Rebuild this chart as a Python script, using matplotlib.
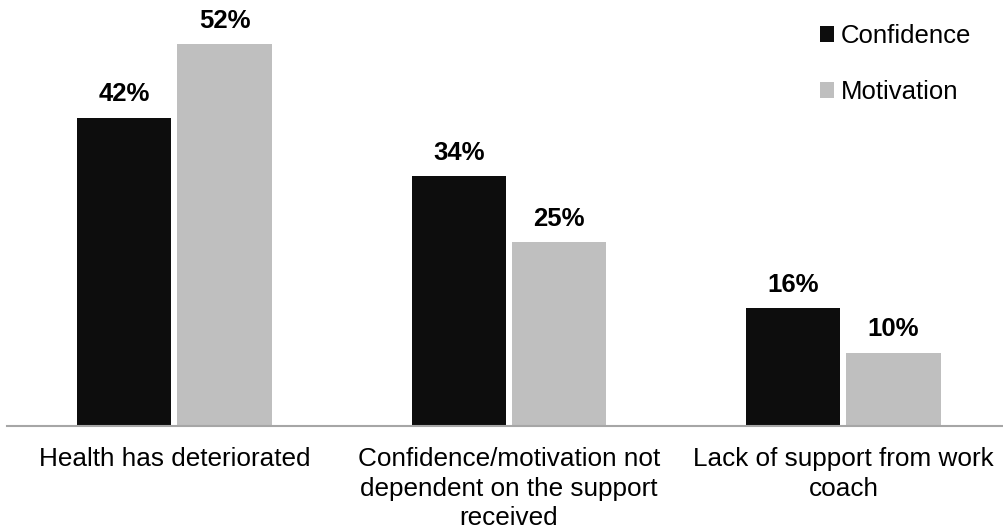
import matplotlib.pyplot as plt
import numpy as np

plt.rcParams['font.family'] = ['Liberation Sans', 'DejaVu Sans']

# reasons and percentages per series
categories = ['Health has deteriorated',
              'Confidence/motivation not\ndependent on the support\nreceived',
              'Lack of support from work\ncoach']
confidence = [42, 34, 16]
motivation = [52, 25, 10]

x = np.arange(len(categories))
w = 0.282
gap = 0.018

fig = plt.figure(figsize=(10.04, 5.31), dpi=100)
ax = fig.add_axes([0.007, 0.1977, 0.993, 0.8023])

b1 = ax.bar(x - (w + gap) / 2, confidence, w, color='#0d0d0d', label='Confidence')
b2 = ax.bar(x + (w + gap) / 2, motivation, w, color='#bfbfbf', label='Motivation')

for bars in (b1, b2):
    for rect in bars:
        ax.annotate(f'{rect.get_height():.0f}%',
                    (rect.get_x() + rect.get_width() / 2, rect.get_height()),
                    xytext=(0, 8), textcoords='offset points',
                    ha='center', va='bottom', fontsize=18.5, fontweight='bold')

ax.set_xlim(-0.5, 2.48)
ax.set_ylim(0, 58)
ax.set_xticks(x)
ax.set_xticklabels(categories, fontsize=18.8, linespacing=1.3)
ax.tick_params(axis='x', length=0, pad=15)
ax.set_yticks([])
for s in ['top', 'right', 'left']:
    ax.spines[s].set_visible(False)
ax.spines['bottom'].set_color('#a6a6a6')
ax.spines['bottom'].set_linewidth(1.5)

ax.legend(loc='upper right', bbox_to_anchor=(0.99, 0.998), frameon=False,
          fontsize=18.5, handlelength=0.55, handleheight=0.55, handletextpad=0.25,
          labelspacing=1.25)

plt.savefig('out.png', dpi=100)
